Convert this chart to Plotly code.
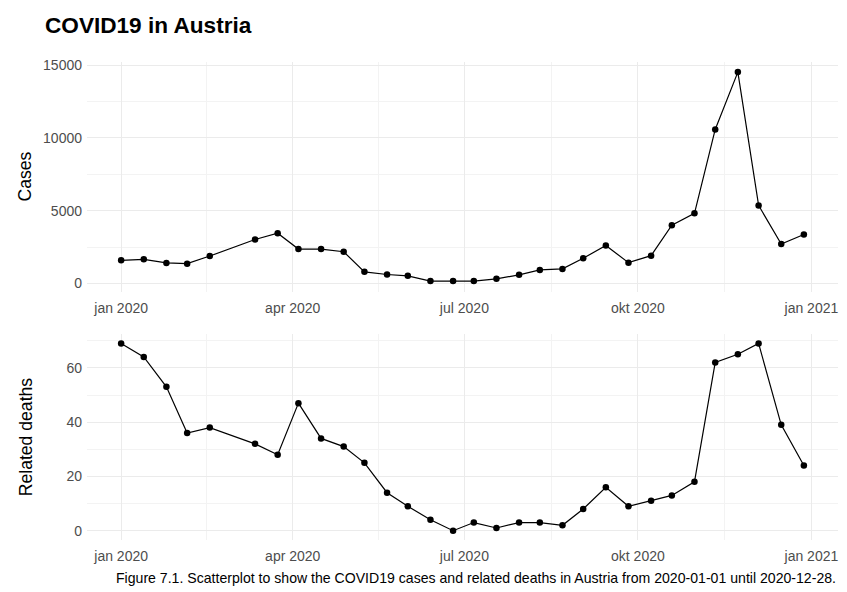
import pandas as pd
import plotly.graph_objects as go

# ---- data ----
dates = ["2020-01-01", "2020-01-13", "2020-01-25", "2020-02-05", "2020-02-17",
         "2020-03-12", "2020-03-24", "2020-04-04", "2020-04-16", "2020-04-28",
         "2020-05-09", "2020-05-21", "2020-06-01", "2020-06-13", "2020-06-25",
         "2020-07-06", "2020-07-18", "2020-07-30", "2020-08-10", "2020-08-22",
         "2020-09-02", "2020-09-14", "2020-09-26", "2020-10-08", "2020-10-19",
         "2020-10-31", "2020-11-11", "2020-11-23", "2020-12-04", "2020-12-16",
         "2020-12-28"]
cases = [1590, 1660, 1410, 1360, 1885, 3020, 3450, 2365, 2365, 2180,
         800, 615, 525, 160, 160, 160, 320, 590, 930, 1000,
         1730, 2610, 1430, 1910, 4000, 4820, 10590, 14530, 5365, 2705, 3365]
deaths = [69, 64, 53, 36, 38, 32, 28, 47, 34, 31,
          25, 14, 9, 4, 0, 3, 1, 3, 3, 2,
          8, 16, 9, 11, 13, 18, 62, 65, 69, 39, 24]

x_tickvals = ["2020-01-01", "2020-04-01", "2020-07-01", "2020-10-01", "2021-01-01"]
x_ticktext = ["jan 2020", "apr 2020", "jul 2020", "okt 2020", "jan 2021"]
cases_ticks = [0, 5000, 10000, 15000]
deaths_ticks = [0, 20, 40, 60]

title_text = "COVID19 in Austria"
caption_text = ("Figure 7.1. Scatterplot to show the COVID19 cases and related deaths "
                "in Austria from 2020-01-01 until 2020-12-28.")

# ---- scales ----
d = pd.to_datetime(dates)
span = d.max() - d.min()
xr = [d.min() - 0.05 * span, d.max() + 0.05 * span]
xt = pd.to_datetime(x_tickvals)
x_minor = [xt[i] + (xt[i + 1] - xt[i]) / 2 for i in range(len(xt) - 1)]


def yrange(v):
    lo, hi = min(v), max(v)
    e = 0.05 * (hi - lo)
    return [lo - e, hi + e]


def minor_vals(t):
    step = t[1] - t[0]
    return [x + step / 2 for x in t] + [t[0] - step / 2]


# page body has an 8px margin; the figure runs from there to the window edge
OFF = 8
W, H = 847 - OFF, 592 - OFF


def xp(px):
    return (px - OFF) / W


def yp(py):
    return 1 - (py - OFF) / H


FONT = "Liberation Sans, Arial, sans-serif"
GRID = "#EBEBEB"
MINOR = "#F3F3F3"
TICKC = "#4D4D4D"

fig = go.Figure()
for vals, xa, ya in [(cases, "x", "y"), (deaths, "x2", "y2")]:
    fig.add_trace(go.Scatter(
        x=d, y=vals, xaxis=xa, yaxis=ya, mode="lines+markers",
        line=dict(color="black", width=1.2),
        marker=dict(color="black", size=6.5),
        showlegend=False, hoverinfo="skip"))

xcommon = dict(
    range=xr, domain=[xp(87), xp(838)], tickmode="array",
    tickvals=[t for t in xt], ticktext=x_ticktext,
    showgrid=True, gridcolor=GRID, gridwidth=1.2, zeroline=False, showline=False,
    ticks="", ticklabelstandoff=6,
    tickfont=dict(family=FONT, size=14, color=TICKC),
    minor=dict(tickmode="array", tickvals=x_minor, showgrid=True,
               gridcolor=MINOR, gridwidth=0.8),
)
ycommon = dict(
    showgrid=True, gridcolor=GRID, gridwidth=1.2, zeroline=False, showline=False,
    ticks="", ticklabelstandoff=4,
    tickfont=dict(family=FONT, size=14, color=TICKC),
    tickmode="array",
)
ytitle_font = dict(family=FONT, size=17.6, color="black")

fig.update_layout(
    width=W, height=H,
    margin=dict(l=0, r=0, t=0, b=0),
    paper_bgcolor="white", plot_bgcolor="white",
    font=dict(family=FONT, color="black"),
    xaxis=dict(**xcommon, anchor="y"),
    xaxis2=dict(**xcommon, anchor="y2"),
    yaxis=dict(**ycommon, domain=[yp(289.5), yp(58)], range=yrange(cases),
               tickvals=cases_ticks, ticktext=[str(v) for v in cases_ticks],
               minor=dict(tickmode="array", tickvals=minor_vals(cases_ticks),
                          showgrid=True, gridcolor=MINOR, gridwidth=0.8),
               title=dict(text="Cases", font=ytitle_font, standoff=6),
               anchor="x"),
    yaxis2=dict(**ycommon, domain=[yp(539.7), yp(332.3)], range=yrange(deaths),
                tickvals=deaths_ticks, ticktext=[str(v) for v in deaths_ticks],
                minor=dict(tickmode="array", tickvals=minor_vals(deaths_ticks),
                           showgrid=True, gridcolor=MINOR, gridwidth=0.8),
                title=dict(text="Related deaths", font=ytitle_font, standoff=29),
                anchor="x2"),
    annotations=[
        dict(text="<b>" + title_text + "</b>", x=xp(43), y=yp(22),
             xref="paper", yref="paper", xanchor="left", yanchor="middle",
             showarrow=False, font=dict(family=FONT, size=22.6, color="black")),
        dict(text=caption_text, x=xp(838), y=yp(578),
             xref="paper", yref="paper", xanchor="right", yanchor="middle",
             showarrow=False, font=dict(family=FONT, size=14.1, color="black")),
    ],
)

fig.write_html("out.html")
